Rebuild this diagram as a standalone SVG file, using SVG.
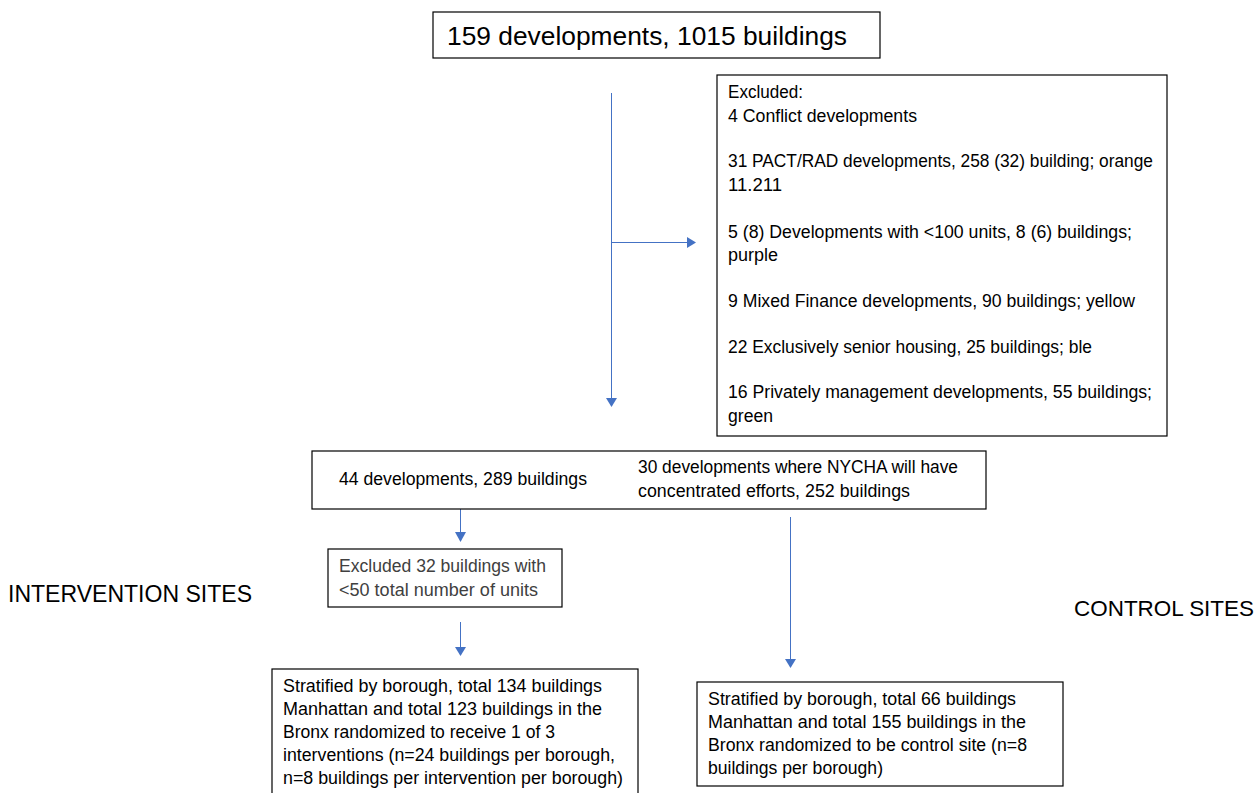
<svg xmlns="http://www.w3.org/2000/svg" width="1258" height="793" viewBox="0 0 1258 793">
<style>
  .box { fill: #ffffff; stroke: #000000; stroke-width: 1.2; }
  .t { font-family: "Liberation Sans", Arial, sans-serif; font-size: 17.5px; fill: #000000; }
  .g { fill: #404040; }
  .big { font-size: 25px; }
  .lab { font-size: 24px; }
  .lab2 { font-size: 21.5px; }
  .ln { stroke: #4472C4; stroke-width: 1; fill: none; }
  .hd { fill: #4472C4; stroke: none; }
</style>
<rect width="1258" height="793" fill="#ffffff"/>

<g id="connectors">
  <line class="ln" x1="611.5" y1="93" x2="611.5" y2="399"/>
  <polygon class="hd" points="606,398 617,398 611.5,407"/>
  <line class="ln" x1="611.5" y1="242.5" x2="688" y2="242.5"/>
  <polygon class="hd" points="687,237 687,248 696,242.5"/>
  <line class="ln" x1="460.5" y1="509" x2="460.5" y2="533"/>
  <polygon class="hd" points="455,532 466,532 460.5,542"/>
  <line class="ln" x1="460.5" y1="622" x2="460.5" y2="648"/>
  <polygon class="hd" points="455,647 466,647 460.5,656"/>
  <line class="ln" x1="790.5" y1="517" x2="790.5" y2="660"/>
  <polygon class="hd" points="785,659 796,659 790.5,668"/>
</g>

<g id="node-top">
  <rect class="box" x="433" y="12" width="447" height="46"/>
  <text class="t big" x="447" y="45" textLength="400" lengthAdjust="spacingAndGlyphs">159 developments, 1015 buildings</text>
</g>

<g id="node-excluded">
  <rect class="box" x="717" y="75" width="450" height="361"/>
  <text class="t" x="728" y="98" textLength="75" lengthAdjust="spacingAndGlyphs">Excluded:</text>
  <text class="t" x="728" y="122" textLength="189" lengthAdjust="spacingAndGlyphs">4 Conflict developments</text>
  <text class="t" x="728" y="167" textLength="425" lengthAdjust="spacingAndGlyphs">31 PACT/RAD developments, 258 (32) building; orange</text>
  <text class="t" x="728" y="191" textLength="54" lengthAdjust="spacingAndGlyphs">11.211</text>
  <text class="t" x="728" y="238" textLength="404" lengthAdjust="spacingAndGlyphs">5 (8) Developments with &lt;100 units, 8 (6) buildings;</text>
  <text class="t" x="728" y="261" textLength="50" lengthAdjust="spacingAndGlyphs">purple</text>
  <text class="t" x="728" y="307" textLength="407" lengthAdjust="spacingAndGlyphs">9 Mixed Finance developments, 90 buildings; yellow</text>
  <text class="t" x="728" y="353" textLength="364" lengthAdjust="spacingAndGlyphs">22 Exclusively senior housing, 25 buildings; ble</text>
  <text class="t" x="728" y="398" textLength="424" lengthAdjust="spacingAndGlyphs">16 Privately management developments, 55 buildings;</text>
  <text class="t" x="728" y="422" textLength="45" lengthAdjust="spacingAndGlyphs">green</text>
</g>

<g id="node-middle">
  <rect class="box" x="312" y="451" width="674" height="58"/>
  <text class="t" x="339" y="485" textLength="248" lengthAdjust="spacingAndGlyphs">44 developments, 289 buildings</text>
  <text class="t" x="638" y="473" textLength="320" lengthAdjust="spacingAndGlyphs">30 developments where NYCHA will have</text>
  <text class="t" x="638" y="497" textLength="272" lengthAdjust="spacingAndGlyphs">concentrated efforts, 252 buildings</text>
</g>

<g id="node-excluded32">
  <rect class="box" x="328" y="549" width="234" height="58"/>
  <text class="t g" x="339" y="572" textLength="207" lengthAdjust="spacingAndGlyphs">Excluded 32 buildings with</text>
  <text class="t g" x="339" y="596" textLength="199" lengthAdjust="spacingAndGlyphs">&lt;50 total number of units</text>
</g>

<g id="label-intervention">
  <text class="t lab" x="8" y="602" textLength="244" lengthAdjust="spacingAndGlyphs">INTERVENTION SITES</text>
</g>

<g id="label-control">
  <text class="t lab2" x="1074" y="616" textLength="180" lengthAdjust="spacingAndGlyphs">CONTROL SITES</text>
</g>

<g id="node-intervention">
  <rect class="box" x="272" y="669" width="366" height="130"/>
  <text class="t" x="283" y="692" textLength="319" lengthAdjust="spacingAndGlyphs">Stratified by borough, total 134 buildings</text>
  <text class="t" x="283" y="715" textLength="319" lengthAdjust="spacingAndGlyphs">Manhattan and total 123 buildings in the</text>
  <text class="t" x="283" y="738" textLength="272" lengthAdjust="spacingAndGlyphs">Bronx randomized to receive 1 of 3</text>
  <text class="t" x="283" y="761" textLength="332" lengthAdjust="spacingAndGlyphs">interventions (n=24 buildings per borough,</text>
  <text class="t" x="283" y="784" textLength="340" lengthAdjust="spacingAndGlyphs">n=8 buildings per intervention per borough)</text>
</g>

<g id="node-control">
  <rect class="box" x="697" y="682" width="366" height="104"/>
  <text class="t" x="708" y="705" textLength="308" lengthAdjust="spacingAndGlyphs">Stratified by borough, total 66 buildings</text>
  <text class="t" x="708" y="728" textLength="318" lengthAdjust="spacingAndGlyphs">Manhattan and total 155 buildings in the</text>
  <text class="t" x="708" y="751" textLength="319" lengthAdjust="spacingAndGlyphs">Bronx randomized to be control site (n=8</text>
  <text class="t" x="708" y="774" textLength="175" lengthAdjust="spacingAndGlyphs">buildings per borough)</text>
</g>
</svg>
